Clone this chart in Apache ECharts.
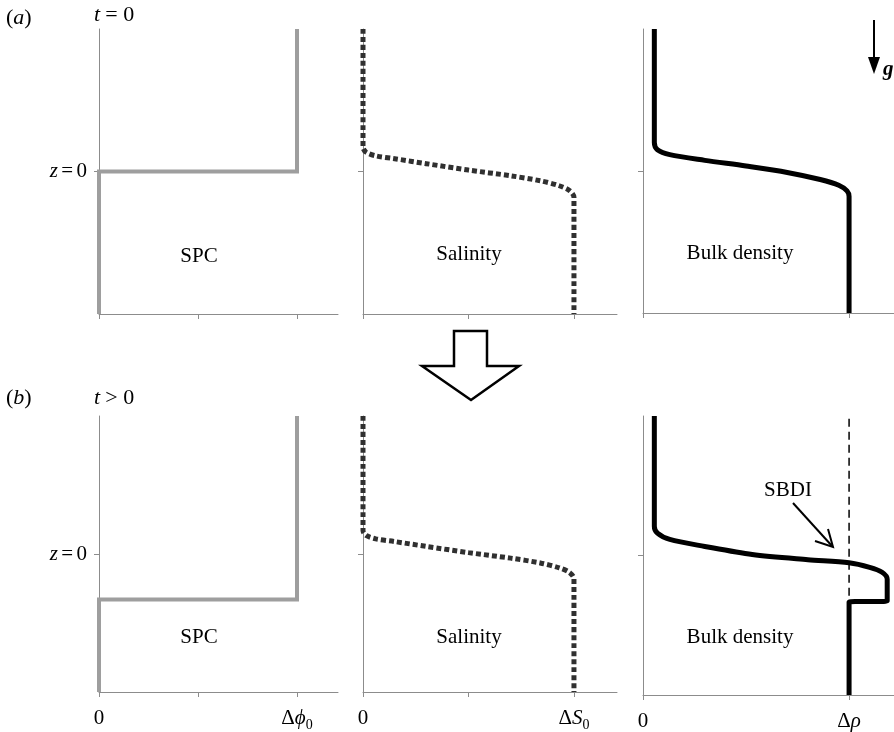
<!DOCTYPE html>
<html>
<head>
<meta charset="utf-8">
<script src="https://cdn.jsdelivr.net/npm/echarts@6/dist/echarts.min.js"></script>
<style>
  html, body { margin: 0; padding: 0; background: #fff; }
  #main { width: 894px; height: 732px; }
</style>
</head>
<body>
<div id="main"></div>
<script>
// profiles as [value, z] pairs, z = 0 is the interface, axes run -1..1
const spcA = [[1, 1], [1, 0], [0, 0], [0, -1]];
const spcB = [[1, 1], [1, -0.33], [0, -0.33], [0, -1]];
const salinityA = [[0, 1], [0, 0.17], [0.015, 0.135], [0.06, 0.11], [0.15, 0.09], [0.3, 0.055],
  [0.5, 0.01], [0.7, -0.03], [0.84, -0.065], [0.93, -0.1], [0.98, -0.135], [1, -0.18], [1, -1]];
const salinityB = [[0, 1], [0, 0.17], [0.015, 0.135], [0.06, 0.11], [0.15, 0.09], [0.3, 0.055],
  [0.5, 0.01], [0.7, -0.03], [0.84, -0.065], [0.93, -0.1], [0.98, -0.135], [1, -0.18], [1, -1]];
const densityA = [[0.055, 1], [0.055, 0.2], [0.07, 0.15], [0.13, 0.115], [0.3, 0.075], [0.5, 0.035],
  [0.7, -0.01], [0.86, -0.06], [0.95, -0.1], [0.99, -0.14], [1, -0.18], [1, -1]];
const densityB = [[0.055, 1], [0.055, 0.21], [0.07, 0.16], [0.13, 0.115], [0.3, 0.065], [0.53, 0.007],
  [0.8, -0.03], [1.0, -0.052], [1.1, -0.085], [1.16, -0.12], [1.185, -0.17], [1.185, -0.325],
  [1.0, -0.335], [1.0, -1]];
const sbdiRef = [[1, 0.98], [1, -0.33]];

// tick positions and bottom labels
const spcTicks = [0, 0.5, 1];
const salTicks = [0, 0.5, 1];
const denTicks = [0, 1];
const zTicks = [0];
const xLabelText = ['0', '{d|Δ}{i|ϕ}{s|0}', '0', '{d|Δ}{i|S}{s|0}', '0', '{d|Δ}{i|ρ}'];
const panelNames = ['SPC', 'Salinity', 'Bulk density'];

const FONT = 'Liberation Serif';
const grids = [
  { left: 99, top: 29, width: 239, height: 285 },
  { left: 363, top: 29, width: 254, height: 285 },
  { left: 643, top: 29, width: 251, height: 284 },
  { left: 99, top: 416, width: 239, height: 281 },
  { left: 363, top: 416, width: 254, height: 281 },
  { left: 643, top: 416, width: 251, height: 281 }
];
const xMax = [1.207, 1.204, 1.218];
const colTicks = [spcTicks, salTicks, denTicks];

const richText = {
  d: { fontFamily: FONT, fontSize: 21, lineHeight: 27, color: '#000' },
  i: { fontFamily: FONT, fontSize: 21, lineHeight: 27, fontStyle: 'italic', color: '#000' },
  s: { fontFamily: FONT, fontSize: 14, lineHeight: 14, verticalAlign: 'bottom', color: '#000' },
  n: { fontFamily: FONT, fontSize: 21, lineHeight: 27, color: '#000' },
  h: { fontFamily: FONT, fontSize: 22, lineHeight: 27, color: '#000' },
  hi: { fontFamily: FONT, fontSize: 22, lineHeight: 27, fontStyle: 'italic', color: '#000' }
};

const xAxes = grids.map((g, k) => {
  const col = k % 3;
  const bottom = k >= 3;
  return {
    type: 'value', gridIndex: k, min: 0, max: xMax[col],
    axisLine: { onZero: false, lineStyle: { color: '#8c8c8c', width: 1 } },
    axisTick: { show: true, customValues: colTicks[col], length: 5, lineStyle: { color: '#8c8c8c' } },
    axisLabel: {
      show: bottom, customValues: [0, 1], margin: 13,
      formatter: v => (v === 0 ? '{n|0}' : xLabelText[col * 2 + 1]),
      rich: richText
    },
    splitLine: { show: false }
  };
});

const yAxes = grids.map((g, k) => ({
  type: 'value', gridIndex: k, min: -1, max: 1,
  axisLine: { onZero: false, lineStyle: { color: '#8c8c8c', width: 1 } },
  axisTick: { show: true, customValues: zTicks, length: 5, lineStyle: { color: '#8c8c8c' } },
  axisLabel: {
    show: k % 3 === 0, customValues: zTicks, margin: 12,
    formatter: () => '{i|z} {n|=} {n|0}',
    rich: richText
  },
  splitLine: { show: false }
}));

function profile(data, k, style, smooth) {
  return {
    type: 'line', xAxisIndex: k, yAxisIndex: k, data: data,
    showSymbol: false, smooth: smooth, silent: true,
    lineStyle: style
  };
}
const spcStyle = { color: '#9e9e9e', width: 4, join: 'miter' };
const salStyle = { color: '#303030', width: 5, type: [5, 3], cap: 'butt' };
const denStyle = { color: '#000', width: 5, join: 'round' };

const series = [
  profile(spcA, 0, spcStyle, false),
  profile(salinityA, 1, salStyle, 0.3),
  profile(densityA, 2, denStyle, 0.3),
  profile(spcB, 3, spcStyle, false),
  profile(salinityB, 4, salStyle, 0.3),
  profile(sbdiRef, 5, { color: '#000', width: 1.5, type: [8, 5] }, false),
  profile(densityB, 5, denStyle, 0.3)
];

const txt = (x, y, text, align, extra) => ({
  type: 'text', x: x, y: y, silent: true,
  style: Object.assign({
    text: text, fontFamily: FONT, fontSize: 21, fill: '#000',
    align: align || 'center', verticalAlign: 'middle', rich: richText
  }, extra || {})
});

const graphics = [
  txt(6, 18, '{h|(}{hi|a}{h|)}', 'left'),
  txt(94, 15, '{hi|t} {h|= 0}', 'left'),
  txt(6, 398, '{h|(}{hi|b}{h|)}', 'left'),
  txt(94, 398, '{hi|t} {h|> 0}', 'left'),
  txt(199, 256, panelNames[0]),
  txt(469, 254, panelNames[1]),
  txt(740, 253, panelNames[2]),
  txt(199, 637, panelNames[0]),
  txt(469, 637, panelNames[1]),
  txt(740, 637, panelNames[2]),
  txt(788, 490, 'SBDI'),
  // SBDI pointer
  { type: 'polyline', silent: true, shape: { points: [[793, 503], [832, 546]] },
    style: { stroke: '#000', lineWidth: 2, fill: null } },
  { type: 'polyline', silent: true, shape: { points: [[815, 541], [833, 547], [828, 529]] },
    style: { stroke: '#000', lineWidth: 2, fill: null } },
  // gravity arrow
  { type: 'line', silent: true, shape: { x1: 874, y1: 20, x2: 874, y2: 60 },
    style: { stroke: '#000', lineWidth: 2 } },
  { type: 'polygon', silent: true, shape: { points: [[868, 57], [880, 57], [874, 74]] },
    style: { fill: '#000' } },
  txt(883, 70, 'g', 'left', { fontWeight: 'bold', fontStyle: 'italic', fontSize: 21 }),
  // hollow arrow between rows
  { type: 'polygon', silent: true,
    shape: { points: [[454, 331], [487, 331], [487, 366], [519, 366], [471, 400], [422, 366], [454, 366]] },
    style: { fill: '#fff', stroke: '#000', lineWidth: 2.5 } }
];

const chart = echarts.init(document.getElementById('main'));
chart.setOption({
  animation: false,
  backgroundColor: '#fff',
  grid: grids,
  xAxis: xAxes,
  yAxis: yAxes,
  series: series,
  graphic: graphics
});
</script>
</body>
</html>
